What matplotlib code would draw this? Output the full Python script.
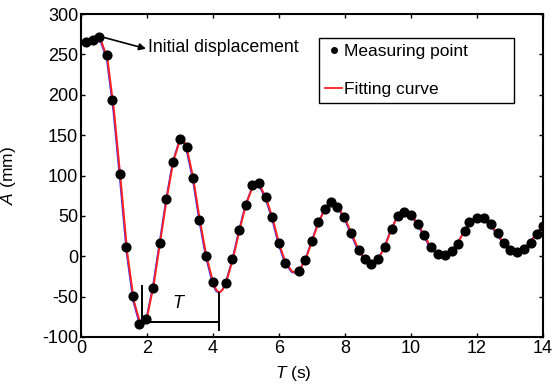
import matplotlib
matplotlib.use("Agg")
import matplotlib.pyplot as plt
import matplotlib.transforms as mtransforms
from matplotlib.lines import Line2D

plt.rcParams['font.family'] = ['Liberation Sans', 'DejaVu Sans']
plt.rcParams['mathtext.fontset'] = 'custom'
plt.rcParams['mathtext.it'] = 'Liberation Sans:italic'
plt.rcParams['mathtext.rm'] = 'Liberation Sans'
plt.rcParams['font.size'] = 12.5
plt.rcParams['axes.unicode_minus'] = False

# Measured points (time s, amplitude mm)
t_meas = [0.15, 0.37, 0.56, 0.79, 0.94, 1.18, 1.37, 1.57, 1.77, 1.96,
          2.17, 2.39, 2.58, 2.78, 2.99, 3.20, 3.39, 3.59, 3.79, 3.99,
          4.38, 4.59, 4.80, 4.99, 5.19, 5.40, 5.60, 5.79, 6.00, 6.18,
          6.62, 6.79, 6.99, 7.19, 7.39, 7.57, 7.77, 7.96, 8.17, 8.41,
          8.60, 8.78, 9.00, 9.21, 9.41, 9.62, 9.80, 10.00, 10.22, 10.40,
          10.60, 10.81, 11.03, 11.23, 11.41, 11.62, 11.77, 12.01, 12.21, 12.41,
          12.62, 12.83, 13.00, 13.22, 13.43, 13.64, 13.81, 13.99]
a_meas = [265, 268, 272, 249, 193, 102, 12, -49, -84, -78,
          -39, 16, 71, 117, 145, 135, 97, 45, 0, -32,
          -33, -4, 32, 64, 88, 91, 73, 49, 16, -8,
          -18, -5, 19, 42, 59, 67, 61, 48, 29, 8,
          -3, -9, -3, 12, 34, 50, 55, 51, 40, 26,
          11, 3, 1, 7, 15, 31, 43, 47, 47, 40,
          29, 17, 8, 5, 9, 17, 28, 38]

# Fitting curve
t_fit = [0.1, 0.3, 0.5, 0.6, 0.8, 1.0, 1.2, 1.4, 1.6, 1.8, 1.9, 2.0, 2.2, 2.4, 2.6,
         2.8, 3.0, 3.1, 3.2, 3.4, 3.6, 3.8, 4.0, 4.1, 4.2, 4.3, 4.4, 4.6, 4.8, 5.0,
         5.2, 5.3, 5.4, 5.6, 5.8, 6.0, 6.2, 6.4, 6.5, 6.6, 6.8, 7.0, 7.2, 7.4, 7.6,
         7.8, 8.0, 8.2, 8.4, 8.6, 8.8, 8.9, 9.0, 9.2, 9.4, 9.6, 9.8, 10.0, 10.2, 10.4,
         10.6, 10.8, 11.0, 11.2, 11.4, 11.6, 11.8, 12.0, 12.2, 12.4, 12.6, 12.8, 13.0,
         13.2, 13.4, 13.6, 13.8, 14.0]
a_fit = [267, 270, 270, 268, 245, 180, 95, 5, -55, -84, -84, -76, -36, 18, 72,
         118, 144, 145, 135, 97, 45, 0, -32, -42, -45, -41, -32, -4, 32, 64,
         86, 90, 89, 73, 48, 16, -8, -19, -20, -18, -5, 19, 42, 59, 66,
         60, 47, 28, 9, -3, -9, -9, -4, 11, 33, 50, 55, 51, 41, 26,
         11, 3, 1, 6, 15, 30, 43, 47, 46, 40, 29, 17, 9,
         5, 8, 17, 28, 38]

xticks = [0, 2, 4, 6, 8, 10, 12, 14]
yticks = [-100, -50, 0, 50, 100, 150, 200, 250, 300]

fig = plt.figure(figsize=(5.53, 3.87), dpi=100)
ax = fig.add_axes([0.1465, 0.1292, 0.8355, 0.8346])

shift = mtransforms.offset_copy(ax.transData, fig=fig, x=-0.8, y=-0.6, units='dots')
ax.plot(t_fit, a_fit, color='#3030ff', lw=1.0, transform=shift, zorder=2)
ax.plot(t_fit, a_fit, color='#ff2020', lw=1.4, zorder=3)
ax.plot(t_meas, a_meas, 'o', color='black', ms=6.3, zorder=4)

# Period bracket
ax.plot([1.84, 1.84], [-37, -83], color='black', lw=1.4, zorder=5)
ax.plot([1.84, 4.19], [-81, -81], color='black', lw=1.4, zorder=5)
ax.plot([4.19, 4.19], [-46, -91], color='black', lw=1.4, zorder=5)
ax.text(2.97, -58, '$T$', ha='center', va='center', fontsize=13)

# Annotation
ax.annotate('', xy=(1.97, 257), xytext=(0.6, 272),
            arrowprops=dict(arrowstyle='-|>', color='black', lw=1.2,
                            mutation_scale=10, shrinkA=0, shrinkB=0), zorder=6)
ax.text(2.03, 259, 'Initial displacement', ha='left', va='center', fontsize=12.8)

ax.set_xlim(0, 14)
ax.set_ylim(-100, 300)
ax.set_xticks(xticks)
ax.set_yticks(yticks)
ax.tick_params(direction='in', length=3, width=1, top=True, right=True,
               labelsize=13, pad=2)
for s in ax.spines.values():
    s.set_linewidth(1.5)

ax.set_xlabel('$T$ (s)', fontsize=12.5)
ax.xaxis.set_label_coords(0.46, -0.085)
ax.set_ylabel('$A$ (mm)', fontsize=12.5)
ax.yaxis.set_label_coords(-0.137, 0.5)

handles = [Line2D([], [], marker='o', color='black', ls='none', ms=4),
           Line2D([], [], color='#ff2020', lw=1.3)]
leg = ax.legend(handles, ['Measuring point', 'Fitting curve'],
                loc='upper left', bbox_to_anchor=(0.515, 0.925, 0.422, 0.0),
                mode='expand', frameon=True, fancybox=False, framealpha=1,
                edgecolor='black', handlelength=1.0, handletextpad=0.1,
                labelspacing=1.3, borderpad=0.35, borderaxespad=0,
                fontsize=12.5)
leg.get_frame().set_linewidth(1.0)

fig.savefig('out.png', dpi=100)
